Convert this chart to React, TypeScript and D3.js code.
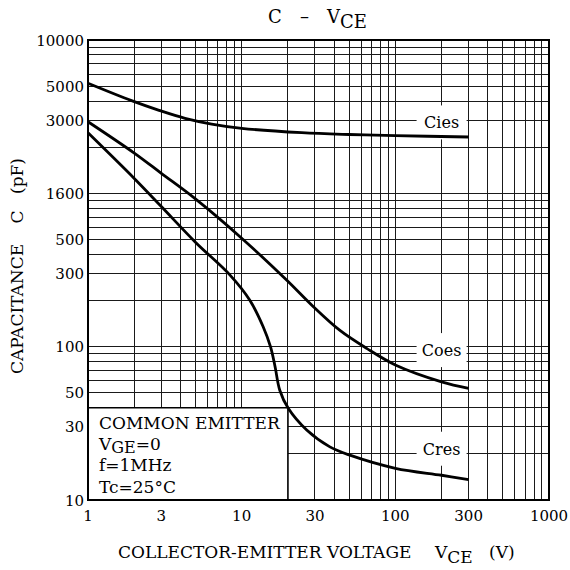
import * as React from "react";
import * as d3 from "d3";

// axis ticks
const xTicks = [1, 3, 10, 30, 100, 300, 1000];
const xTickLabels = ["1", "3", "10", "30", "100", "300", "1000"];
const yTicks = [10000, 5000, 3000, 1000, 500, 300, 100, 50, 30, 10];
const yTickLabels = ["10000", "5000", "3000", "1600", "500", "300", "100", "50", "30", "10"];

// curves (V, pF)
const ciesV = [1, 1.92, 2.87, 4.28, 6.38, 10, 24.6, 50, 100, 300];
const ciesC = [5220, 4020, 3490, 3085, 2832, 2655, 2486, 2420, 2380, 2330];
const coesV = [1, 2, 3, 5, 10, 19.6, 29.3, 43.4, 65, 100, 200, 300];
const coesC = [2930, 1830, 1350, 920, 510, 272, 182, 128, 97.5, 76, 59, 53.5];
const cresV = [1, 2, 3, 5, 8.4, 11.3, 13.8, 15.4, 16.5, 17.7, 20.1, 26.5, 37.5, 50.6, 100, 200, 300];
const cresC = [2480, 1250, 820, 480, 293, 201, 135, 100, 74, 52, 39.6, 28.6, 22.2, 19.6, 16.1, 14.5, 13.6];

const curveNames = ["Cies", "Coes", "Cres"];
const labelV = [200, 200, 200];
const labelC = [2900, 95, 21.6];

const conditions = ["COMMON EMITTER", "V|GE|=0", "f=1MHz", "Tc=25°C"];

const FONT = "'DejaVu Serif', serif";

export default function App() {
  const width = 570;
  const height = 570;
  const left = 88, right = 549, top = 40, bottom = 500;

  const x = d3.scaleLog().domain([1, 1000]).range([left, right]);
  const y = d3.scaleLog().domain([10, 10000]).range([bottom, top]);

  const xGrid: number[] = [];
  for (let d = 1; d <= 100; d *= 10) for (let k = 1; k <= 9; k++) xGrid.push(k * d);
  xGrid.push(1000);
  const yGrid: number[] = [];
  for (let d = 10; d <= 1000; d *= 10) for (let k = 1; k <= 9; k++) yGrid.push(k * d);
  yGrid.push(10000);

  const line = d3
    .line<[number, number]>()
    .x((d) => x(d[0]))
    .y((d) => y(d[1]))
    .curve(d3.curveCatmullRom.alpha(0.5));

  const series = [
    d3.zip(ciesV, ciesC) as [number, number][],
    d3.zip(coesV, coesC) as [number, number][],
    d3.zip(cresV, cresC) as [number, number][],
  ];

  // condition box covers 1..20 V, 10..40 pF
  const boxX0 = x(1), boxX1 = x(20), boxY0 = y(40), boxY1 = y(10);

  return (
    <svg
      width={width}
      height={height}
      style={{ position: "absolute", left: 0, top: 0, background: "#fff" }}
      fontFamily={FONT}
    >
      <rect width={width} height={height} fill="#fff" />

      {/* grid */}
      <g stroke="#1a1a1a" strokeWidth={1} shapeRendering="crispEdges">
        {xGrid.map((v) => (
          <line key={"x" + v} x1={x(v)} x2={x(v)} y1={top} y2={bottom} />
        ))}
        {yGrid.map((c) => (
          <line key={"y" + c} x1={left} x2={right} y1={y(c)} y2={y(c)} />
        ))}
      </g>

      {/* white label boxes */}
      {curveNames.map((n, i) => (
        <rect
          key={"b" + n}
          x={x(labelV[i]) - 25}
          y={y(labelC[i]) - 17}
          width={50}
          height={34}
          fill="#fff"
        />
      ))}

      {/* condition box */}
      <rect x={boxX0} y={boxY0} width={boxX1 - boxX0} height={boxY1 - boxY0} fill="#fff" />
      <path
        d={`M${boxX0},${boxY0}H${boxX1}V${boxY1}`}
        fill="none"
        stroke="#000"
        strokeWidth={1.6}
      />

      {/* frame */}
      <rect
        x={left}
        y={top}
        width={right - left}
        height={bottom - top}
        fill="none"
        stroke="#000"
        strokeWidth={2}
      />

      {/* curves */}
      {series.map((s, i) => (
        <path key={"c" + i} d={line(s) || ""} fill="none" stroke="#000" strokeWidth={2.8} />
      ))}

      {/* curve labels */}
      {curveNames.map((n, i) => (
        <text
          key={"t" + n}
          x={x(labelV[i])}
          y={y(labelC[i]) + 6}
          textAnchor="middle"
          fontSize={16}
        >
          {n}
        </text>
      ))}

      {/* y ticks */}
      {yTicks.map((c, i) => (
        <text key={"yt" + c} x={left - 4} y={y(c) + 5.5} textAnchor="end" fontSize={15}>
          {yTickLabels[i]}
        </text>
      ))}

      {/* x ticks */}
      {xTicks.map((v, i) => (
        <text key={"xt" + v} x={x(v)} y={bottom + 21} textAnchor="middle" fontSize={15}>
          {xTickLabels[i]}
        </text>
      ))}

      {/* conditions */}
      {conditions.map((t, i) => {
        const parts = t.split("|");
        return (
          <text key={"cd" + i} x={boxX0 + 11} y={boxY0 + 21 + i * 21.3} fontSize={17}>
            {parts.length === 1 ? (
              t
            ) : (
              <>
                <tspan>{parts[0]}</tspan>
                <tspan dy={3} fontSize={16}>{parts[1]}</tspan>
                <tspan dy={-3}>{parts[2]}</tspan>
              </>
            )}
          </text>
        );
      })}

      {/* title */}
      <text y={23} fontSize={18}>
        <tspan x={268}>C</tspan>
        <tspan x={300}>–</tspan>
        <tspan x={327}>V</tspan>
        <tspan dy={5}>CE</tspan>
      </text>

      {/* x label */}
      <text y={558} fontSize={17}>
        <tspan x={118}>COLLECTOR-EMITTER VOLTAGE</tspan>
        <tspan x={435}>V</tspan>
        <tspan dy={5}>CE</tspan>
        <tspan x={489} dy={-5}>(V)</tspan>
      </text>

      {/* y label */}
      <g fontSize={17} textAnchor="middle">
        <text transform="translate(23,309) rotate(-90)">CAPACITANCE</text>
        <text transform="translate(23,217) rotate(-90)">C</text>
        <text transform="translate(23,176) rotate(-90)">(pF)</text>
      </g>
    </svg>
  );
}
